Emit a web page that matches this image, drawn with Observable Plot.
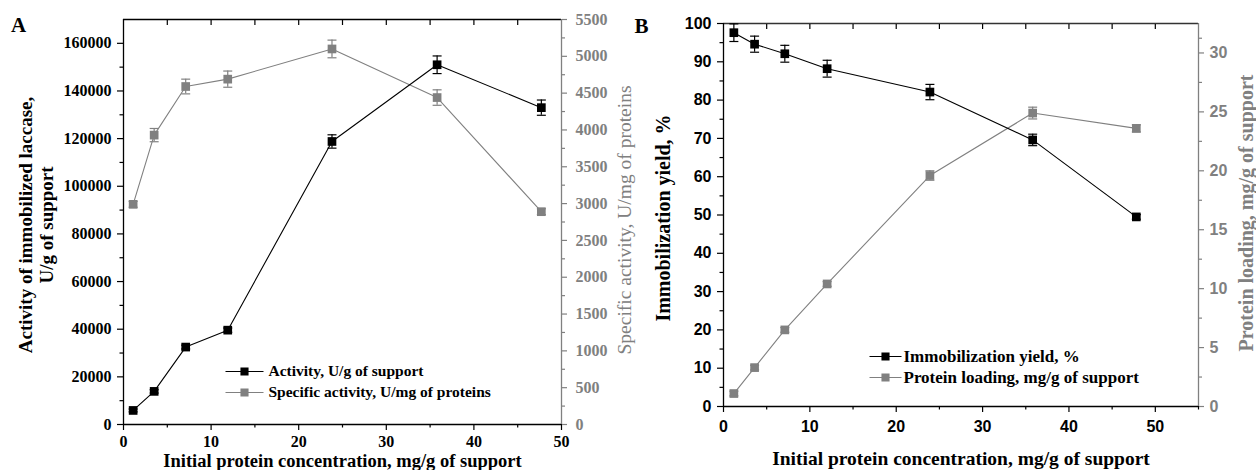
<!DOCTYPE html>
<html>
<head>
<meta charset="utf-8">
<script src="https://cdn.jsdelivr.net/npm/d3@7"></script>
<script src="https://cdn.jsdelivr.net/npm/@observablehq/plot@0.6"></script>
<style>
  body { margin: 0; background: #fff; }
  #wrap { position: relative; width: 1256px; height: 470px; overflow: hidden; background: #fff; }
  #a, #b { position: absolute; top: 0; }
  #a { left: 0; }
  #b { left: 628px; }
</style>
</head>
<body>
<div id="wrap"><div id="a"></div><div id="b"></div></div>
<script>
// ---------- Panel A data ----------
const concA = [1.1, 3.5, 7.1, 11.9, 23.8, 35.8, 47.7];
const activity = [5900, 13900, 32500, 39600, 118800, 151000, 133000];
const activityErr = [600, 700, 800, 900, 2800, 3700, 3200];
const specificActivity = [2990, 3930, 4590, 4690, 5100, 4440, 2890];
const specificErr = [40, 90, 100, 110, 120, 105, 40];
const xDomainA = [0, 50];
const leftDomainA = [0, 170000];
const rightDomainA = [0, 5500];
const xTicksA = [0, 10, 20, 30, 40, 50];
const leftTicksA = [0, 20000, 40000, 60000, 80000, 100000, 120000, 140000, 160000];
const rightTicksA = [0, 500, 1000, 1500, 2000, 2500, 3000, 3500, 4000, 4500, 5000, 5500];

// ---------- Panel B data ----------
const concB = [1.2, 3.6, 7.1, 12.0, 23.9, 35.8, 47.8];
const immobYield = [97.6, 94.6, 92.1, 88.2, 82.1, 69.6, 49.5];
const immobYieldErr = [2.3, 2.1, 2.2, 2.2, 2.0, 1.5, 0.6];
const proteinLoading = [1.1, 3.3, 6.5, 10.4, 19.6, 24.9, 23.6];
const proteinLoadingErr = [0.2, 0.2, 0.2, 0.2, 0.4, 0.5, 0.3];
const xDomainB = [0, 55];
const leftDomainB = [0, 100];
const rightDomainB = [0, 32.5];
const xTicksB = [0, 10, 20, 30, 40, 50];
const leftTicksB = [0, 10, 20, 30, 40, 50, 60, 70, 80, 90, 100];
const rightTicksB = [0, 5, 10, 15, 20, 25, 30];

// ---------- Text ----------
const xTitle = "Initial protein concentration, mg/g of support";
const leftTitleA = "Activity of immobilized laccase,\nU/g of support";
const rightTitleA = "Specific activity, U/mg of proteins";
const legendA = ["Activity, U/g of support", "Specific activity, U/mg of proteins"];
const leftTitleB = "Immobilization yield, %";
const rightTitleB = "Protein loading, mg/g of support";
const legendB = ["Immobilization yield, %", "Protein loading, mg/g of support"];

const BLACK = "#000";
const GRAY = "#808080";
const SERIF = "'Liberation Serif', 'Times New Roman', serif";
const SANS = "'Liberation Sans', Arial, sans-serif";

const cap = {draw(ctx) { ctx.moveTo(-4.5, 0); ctx.lineTo(4.5, 0); }};
function legendSymbol(half, side) {
  return {draw(ctx) {
    const h = side / 2;
    ctx.moveTo(-half, 0); ctx.lineTo(-h, 0);
    ctx.moveTo(h, 0); ctx.lineTo(half, 0);
    ctx.moveTo(-h, -h); ctx.lineTo(h, -h); ctx.lineTo(h, h); ctx.lineTo(-h, h); ctx.closePath();
  }};
}

function series(data, color) {
  return [
    Plot.ruleX(data, {x: "x", y1: d => d.y - d.e, y2: d => d.y + d.e, stroke: color, strokeWidth: 1.2}),
    Plot.dot(data, {x: "x", y: d => d.y + d.e, symbol: cap, stroke: color, fill: "none", strokeWidth: 1.2}),
    Plot.dot(data, {x: "x", y: d => d.y - d.e, symbol: cap, stroke: color, fill: "none", strokeWidth: 1.2}),
    Plot.line(data, {x: "x", y: "y", stroke: color, strokeWidth: 1.1}),
    Plot.dot(data, {x: "x", y: "y", symbol: "square", r: 4.9, fill: color})
  ];
}

function minorBetween(ticks) {
  const out = [];
  for (let i = 0; i < ticks.length - 1; i++) out.push((ticks[i] + ticks[i + 1]) / 2);
  return out;
}

function legendEntries(labels, colors, o) {
  const marks = [];
  labels.forEach((lab, i) => {
    marks.push(Plot.dot([lab], {frameAnchor: "bottom-left", dx: o.sx, dy: o.dy + i * o.gap,
      symbol: legendSymbol(o.half, 7), r: 3, fill: colors[i], stroke: colors[i], strokeWidth: 1.1}));
    marks.push(Plot.text([lab], {text: d => d, frameAnchor: "bottom-left", dx: o.tx, dy: o.dy + i * o.gap,
      textAnchor: "start", lineAnchor: "middle", fontFamily: SERIF, fontWeight: "bold", fontSize: o.fs, fill: BLACK}));
  });
  return marks;
}

// ================= Panel A =================
const kA = leftDomainA[1] / rightDomainA[1];
const activityData = concA.map((x, i) => ({x, y: activity[i], e: activityErr[i]}));
const specificData = concA.map((x, i) => ({x, y: specificActivity[i] * kA, e: specificErr[i] * kA}));

const plotA = Plot.plot({
  width: 640, height: 470,
  marginLeft: 123, marginRight: 79, marginTop: 19, marginBottom: 46,
  x: {domain: xDomainA},
  y: {domain: leftDomainA},
  style: {background: "transparent", overflow: "visible"},
  marks: [
    // frame
    Plot.ruleY([leftDomainA[1]], {stroke: BLACK, strokeWidth: 1.3}),
    Plot.ruleX([xDomainA[1]], {stroke: GRAY, strokeWidth: 1.3}),
    Plot.ruleX([xDomainA[0]], {stroke: BLACK, strokeWidth: 1.3}),
    Plot.ruleY([leftDomainA[0]], {stroke: BLACK, strokeWidth: 1.3}),
    // bottom axis
    Plot.axisX({ticks: xTicksA, tickSize: 6, tickPadding: 5, tickFormat: d3.format("d"), label: null,
      fontFamily: SERIF, fontWeight: "bold", fontSize: 16, strokeWidth: 1.2}),
    Plot.axisX({ticks: minorBetween(xTicksA), tickSize: 3.5, tickFormat: () => "", label: null, strokeWidth: 1.2}),
    // top inward ticks
    Plot.axisX({anchor: "top", ticks: xTicksA.concat(minorBetween(xTicksA)).filter(t => t > xDomainA[0] && t < xDomainA[1]),
      tickSize: 5, dy: 5, tickFormat: () => "", label: null, strokeWidth: 1.2}),
    // left axis
    Plot.axisY({ticks: leftTicksA, tickSize: 6, tickPadding: 6, tickFormat: d3.format("d"), label: null,
      fontFamily: SERIF, fontWeight: "bold", fontSize: 16, strokeWidth: 1.2}),
    Plot.axisY({ticks: minorBetween(leftTicksA), tickSize: 3.5, tickFormat: () => "", label: null, strokeWidth: 1.2}),
    // right axis (gray)
    Plot.axisY({anchor: "right", ticks: rightTicksA.map(v => v * kA), tickSize: 5, tickPadding: 9,
      tickFormat: d => String(Math.round(d / kA)), label: null, color: GRAY,
      fontFamily: SERIF, fontWeight: "bold", fontSize: 16, strokeWidth: 1.2}),
    Plot.axisY({anchor: "right", ticks: minorBetween(rightTicksA).map(v => v * kA), tickSize: 3, tickFormat: () => "",
      label: null, color: GRAY, strokeWidth: 1.2}),
    // series
    ...series(specificData, GRAY),
    ...series(activityData, BLACK),
    // titles
    Plot.text([leftTitleA], {text: d => d, frameAnchor: "left", rotate: -90, dx: -88, dy: 3,
      textAnchor: "middle", lineAnchor: "middle", lineHeight: 1.1,
      fontFamily: SERIF, fontWeight: "bold", fontSize: 19, fill: BLACK}),
    Plot.text([rightTitleA], {text: d => d, frameAnchor: "right", rotate: -90, dx: 63, dy: -2,
      textAnchor: "middle", lineAnchor: "middle",
      fontFamily: SERIF, fontSize: 19.5, fill: GRAY}),
    Plot.text([xTitle], {text: d => d, frameAnchor: "bottom", dy: 37, textAnchor: "middle", lineAnchor: "middle",
      fontFamily: SERIF, fontWeight: "bold", fontSize: 18.5, fill: BLACK}),
    Plot.text(["A"], {text: d => d, frameAnchor: "top-left", dx: -105, dy: 6, textAnchor: "middle", lineAnchor: "middle",
      fontFamily: SERIF, fontWeight: "bold", fontSize: 21, fill: BLACK}),
    // legend
    ...legendEntries(legendA, [BLACK, GRAY], {sx: 121, tx: 145, dy: -53, gap: 21, half: 19, fs: 15.5})
  ]
});
document.getElementById("a").appendChild(plotA);

// ================= Panel B =================
const kB = leftDomainB[1] / rightDomainB[1];
const yieldData = concB.map((x, i) => ({x, y: immobYield[i], e: immobYieldErr[i]}));
const loadingData = concB.map((x, i) => ({x, y: proteinLoading[i] * kB, e: proteinLoadingErr[i] * kB}));

const plotB = Plot.plot({
  width: 628, height: 470,
  marginLeft: 95, marginRight: 58, marginTop: 23, marginBottom: 64,
  x: {domain: xDomainB},
  y: {domain: leftDomainB},
  style: {background: "transparent", overflow: "visible"},
  marks: [
    Plot.ruleY([leftDomainB[1]], {stroke: "#333", strokeWidth: 1.3}),
    Plot.ruleX([xDomainB[1]], {stroke: GRAY, strokeWidth: 1.3}),
    Plot.ruleX([xDomainB[0]], {stroke: BLACK, strokeWidth: 1.3}),
    Plot.ruleY([leftDomainB[0]], {stroke: BLACK, strokeWidth: 1.3}),
    Plot.axisX({ticks: xTicksB, tickSize: 6, tickPadding: 8, tickFormat: d3.format("d"), label: null,
      fontFamily: SANS, fontWeight: "bold", fontSize: 16, strokeWidth: 1.2}),
    Plot.axisX({ticks: minorBetween(xTicksB).concat([55]), tickSize: 3.5, tickFormat: () => "", label: null, strokeWidth: 1.2}),
    Plot.axisX({anchor: "top", ticks: xTicksB.concat(minorBetween(xTicksB)).filter(t => t > xDomainB[0] && t < xDomainB[1]),
      tickSize: 5, dy: 5, tickFormat: () => "", label: null, strokeWidth: 1.2}),
    Plot.axisY({ticks: leftTicksB, tickSize: 6, tickPadding: 6, tickFormat: d3.format("d"), label: null,
      fontFamily: SANS, fontWeight: "bold", fontSize: 16, strokeWidth: 1.2}),
    Plot.axisY({ticks: minorBetween(leftTicksB), tickSize: 3.5, tickFormat: () => "", label: null, strokeWidth: 1.2}),
    Plot.axisY({anchor: "right", ticks: rightTicksB.map(v => v * kB), tickSize: 5, tickPadding: 6,
      tickFormat: d => String(Math.round(d / kB)), label: null, color: GRAY,
      fontFamily: SANS, fontWeight: "bold", fontSize: 16, strokeWidth: 1.2}),
    Plot.axisY({anchor: "right", ticks: minorBetween(rightTicksB.concat([32.5])).map(v => v * kB), tickSize: 3, tickFormat: () => "",
      label: null, color: GRAY, strokeWidth: 1.2}),
    ...series(loadingData, GRAY),
    ...series(yieldData, BLACK),
    Plot.text([leftTitleB], {text: d => d, frameAnchor: "left", rotate: -90, dx: -60, dy: 3,
      textAnchor: "middle", lineAnchor: "middle",
      fontFamily: SERIF, fontWeight: "bold", fontSize: 20, fill: BLACK}),
    Plot.text([rightTitleB], {text: d => d, frameAnchor: "right", rotate: -90, dx: 48, dy: -2,
      textAnchor: "middle", lineAnchor: "middle",
      fontFamily: SERIF, fontWeight: "bold", fontSize: 20, fill: GRAY}),
    Plot.text([xTitle], {text: d => d, frameAnchor: "bottom", dy: 52, textAnchor: "middle", lineAnchor: "middle",
      fontFamily: SERIF, fontWeight: "bold", fontSize: 19.5, fill: BLACK}),
    Plot.text(["B"], {text: d => d, frameAnchor: "top-left", dx: -82, dy: 3, textAnchor: "middle", lineAnchor: "middle",
      fontFamily: SERIF, fontWeight: "bold", fontSize: 21, fill: BLACK}),
    ...legendEntries(legendB, [BLACK, GRAY], {sx: 162, tx: 180, dy: -50, gap: 21, half: 16, fs: 17})
  ]
});
document.getElementById("b").appendChild(plotB);
</script>
</body>
</html>
